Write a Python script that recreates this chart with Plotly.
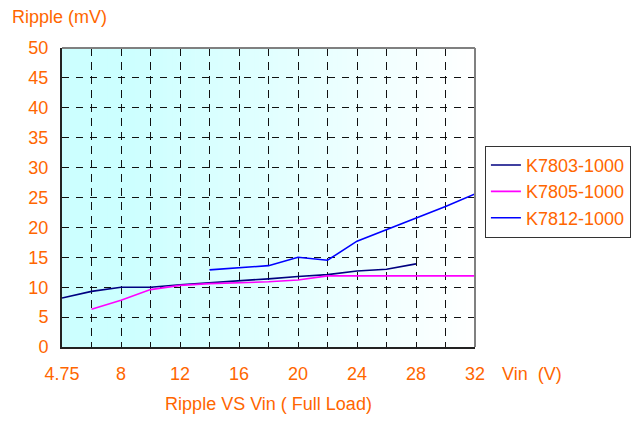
import plotly.graph_objects as go

# ---- data ----
vin = [4.75, 6, 8, 10, 12, 14, 16, 18, 20, 22, 24, 26, 28, 30, 32]
tick_labels = ["4.75", "", "8", "", "12", "", "16", "", "20", "", "24", "", "28", "", "32"]
k7803 = [8.2, 9.3, 10.0, 10.0, 10.4, 10.7, 11.0, 11.4, 11.8, 12.1, 12.7, 13.0, 13.9, None, None]
k7805 = [None, 6.3, 7.8, 9.6, 10.3, 10.6, 10.7, 10.9, 11.2, 11.9, 11.9, 11.9, 11.9, 11.9, 11.9]
k7812 = [None, None, None, None, None, 12.9, 13.3, 13.6, 15.0, 14.5, 17.7, 19.6, 21.6, 23.5, 25.6]
y_ticks = [0, 5, 10, 15, 20, 25, 30, 35, 40, 45, 50]

series = [("K7803-1000", k7803, "#000080"),
          ("K7805-1000", k7805, "#FF00FF"),
          ("K7812-1000", k7812, "#0000FF")]

ORANGE = "#FF6600"
FONT = "Liberation Sans, Arial, sans-serif"

idx = list(range(len(vin)))

fig = go.Figure()
for i, (name, vals, col) in enumerate(series):
    fig.add_trace(go.Scatter(x=idx, y=vals, mode="lines", name=name,
                             line=dict(color=col, width=1.6),
                             legendgroup=str(i), connectgaps=False,
                             cliponaxis=False))

# gradient background for plot area
shapes = []
N = 90
c0 = (204, 255, 255)
for k in range(N):
    f = (k + 0.5) / N
    t = 0 if f < 0.15 else min(1.0, (f - 0.15) / 0.85)
    col = tuple(round(c0[j] + (255 - c0[j]) * t) for j in range(3))
    shapes.append(dict(type="rect", xref="x domain", yref="y domain",
                       x0=k / N, x1=(k + 1) / N + 0.002, y0=0, y1=1,
                       fillcolor="rgb(%d,%d,%d)" % col, line=dict(width=0),
                       layer="below"))
# top / right gray border
shapes.append(dict(type="line", xref="x domain", yref="y domain", x0=0, x1=1, y0=1, y1=1,
                   line=dict(color="#808080", width=2), layer="above"))
shapes.append(dict(type="line", xref="x domain", yref="y domain", x0=1, x1=1, y0=0, y1=1,
                   line=dict(color="#808080", width=2), layer="above"))

# page body has an 8px default margin, so the figure is laid out 8px inset
fig.update_layout(
    width=635, height=415,
    margin=dict(l=54, r=161, t=40, b=72),
    paper_bgcolor="white", plot_bgcolor="white",
    font=dict(family=FONT, size=18, color=ORANGE),
    shapes=shapes,
    showlegend=True,
    legend=dict(x=1.024, y=0.673, xanchor="left", yanchor="top",
                bgcolor="white", bordercolor="#333333", borderwidth=1,
                font=dict(family=FONT, size=18, color=ORANGE),
                tracegroupgap=0, itemwidth=30),
    annotations=[
        dict(text="Ripple (mV)", xref="paper", yref="paper", x=-0.126, y=1.0 + 31 / 303,
             xanchor="left", yanchor="middle", showarrow=False,
             font=dict(family=FONT, size=18, color=ORANGE)),
        dict(text="Vin&nbsp;&nbsp;(V)", xref="paper", yref="paper", x=1.06, y=-27 / 303,
             xanchor="left", yanchor="middle", showarrow=False,
             font=dict(family=FONT, size=18, color=ORANGE)),
    ],
)

fig.update_xaxes(
    range=[0, len(vin) - 1], tickmode="array", tickvals=idx, ticktext=tick_labels,
    showgrid=True, gridcolor="#111111", griddash="8px,6px", gridwidth=1,
    showline=True, linecolor="#222222", linewidth=2, zeroline=False,
    ticks="outside", ticklen=9, tickcolor="rgba(0,0,0,0)",
    tickfont=dict(family=FONT, size=18, color=ORANGE),
    title=dict(text="Ripple VS Vin ( Full Load)", standoff=15,
               font=dict(family=FONT, size=18, color=ORANGE)),
)
fig.update_yaxes(
    range=[0, 50], tickmode="array", tickvals=y_ticks,
    showgrid=True, gridcolor="#111111", griddash="7px,7px", gridwidth=1,
    showline=True, linecolor="#222222", linewidth=2, zeroline=False,
    ticks="outside", ticklen=8, tickcolor="rgba(0,0,0,0)",
    tickfont=dict(family=FONT, size=18, color=ORANGE),
)

fig.write_html("out.html", config={"displayModeBar": False})
